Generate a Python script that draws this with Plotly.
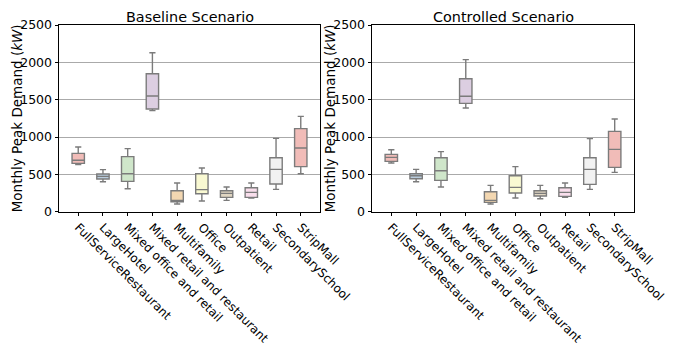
import colorsys
import plotly.graph_objects as go

categories = ["FullServiceRestaurant", "LargeHotel", "Mixed office and retail",
              "Mixed retail and restaurant", "Multifamily", "Office", "Outpatient",
              "Retail", "SecondarySchool", "StripMall"]

# Baseline scenario: [lower whisker, Q1, median, Q3, upper whisker]
base_low = [630, 402, 308, 1353, 103, 143, 152, 183, 299, 509]
base_q1 = [647, 438, 406, 1375, 134, 241, 192, 192, 371, 603]
base_med = [688, 473, 509, 1549, 152, 295, 246, 259, 567, 853]
base_q3 = [781, 504, 737, 1848, 281, 509, 281, 321, 723, 1112]
base_high = [866, 563, 844, 2129, 384, 585, 330, 384, 982, 1277]

# Controlled scenario
ctrl_low = [652, 402, 330, 1388, 103, 183, 174, 192, 299, 527]
ctrl_q1 = [674, 442, 420, 1451, 125, 250, 210, 205, 366, 594]
ctrl_med = [728, 482, 549, 1545, 152, 326, 246, 259, 567, 835]
ctrl_q3 = [768, 509, 723, 1781, 268, 482, 281, 321, 723, 1076]
ctrl_high = [830, 567, 804, 2036, 353, 603, 353, 384, 978, 1241]

y_ticks = [0, 500, 1000, 1500, 2000, 2500]

pastel1 = ["#fbb4ae", "#b3cde3", "#ccebc5", "#decbe4", "#fed9a6",
           "#ffffcc", "#e5d8bd", "#fddaec", "#f2f2f2"]


def desat(hexc, f=0.75):
    r, g, b = (int(hexc[i:i + 2], 16) / 255 for i in (1, 3, 5))
    h, l, s = colorsys.rgb_to_hls(r, g, b)
    r, g, b = colorsys.hls_to_rgb(h, l, s * f)
    return "#%02x%02x%02x" % (round(r * 255), round(g * 255), round(b * 255))


colors = [desat(pastel1[i % len(pastel1)]) for i in range(len(categories))]
line_gray = "#7b7b7b"

W, H = 673, 348
left_dom = [59 / W, 320 / W]
right_dom = [372 / W, 634 / W]
y_dom = [1 - 211.7 / H, 1 - 25 / H]

fig = go.Figure()

panels = [
    ("x", "y", base_low, base_q1, base_med, base_q3, base_high),
    ("x2", "y2", ctrl_low, ctrl_q1, ctrl_med, ctrl_q3, ctrl_high),
]
for xa, ya, lo, q1, med, q3, hi in panels:
    for i, cat in enumerate(categories):
        fig.add_trace(go.Box(
            x=[cat], lowerfence=[lo[i]], q1=[q1[i]], median=[med[i]],
            q3=[q3[i]], upperfence=[hi[i]],
            xaxis=xa, yaxis=ya, width=0.5, whiskerwidth=0.5,
            fillcolor=colors[i], line=dict(color=line_gray, width=1.4),
            boxpoints=False, showlegend=False, hoverinfo="skip",
        ))

font = dict(family="DejaVu Sans", size=12, color="black")

xcommon = dict(
    type="category", categoryorder="array", categoryarray=categories,
    tickangle=45, ticks="outside", ticklen=3, tickcolor="black",
    showline=True, linecolor="black", linewidth=1, mirror=True,
    showgrid=False, zeroline=False, tickfont=font, automargin=False,
)
ycommon = dict(
    range=[0, 2500], tickvals=y_ticks, ticks="outside", ticklen=3.5,
    tickcolor="black", showline=True, linecolor="black", linewidth=1,
    mirror=True, showgrid=True, gridcolor="#aaaaaa", gridwidth=1,
    zeroline=False, tickfont=dict(family="DejaVu Sans", size=12.5, color="black"),
    automargin=False,
)

fig.update_layout(
    width=W, height=H, margin=dict(l=0, r=0, t=0, b=0),
    paper_bgcolor="white", plot_bgcolor="white",
    font=font, boxmode="overlay",
    xaxis=dict(domain=left_dom, anchor="y", **xcommon),
    xaxis2=dict(domain=right_dom, anchor="y2", **xcommon),
    yaxis=dict(domain=y_dom, anchor="x", **ycommon),
    yaxis2=dict(domain=y_dom, anchor="x2", **ycommon),
)

ymid = 1 - 118.3 / H
ann = [
    dict(text="Baseline Scenario", x=189.5 / W, y=1 - 17 / H),
    dict(text="Controlled Scenario", x=503 / W, y=1 - 17 / H),
]
for a in ann:
    fig.add_annotation(xref="paper", yref="paper", showarrow=False,
                       xanchor="center", yanchor="middle",
                       font=dict(family="DejaVu Sans", size=14.4, color="black"), **a)
for xc in (17, 330):
    fig.add_annotation(text="Monthly Peak Demand (<i>kW</i>)", xref="paper", yref="paper",
                       x=xc / W, y=ymid, textangle=-90, showarrow=False,
                       xanchor="center", yanchor="middle",
                       font=dict(family="DejaVu Sans", size=13.5, color="black"))

fig.write_html("out.html")
